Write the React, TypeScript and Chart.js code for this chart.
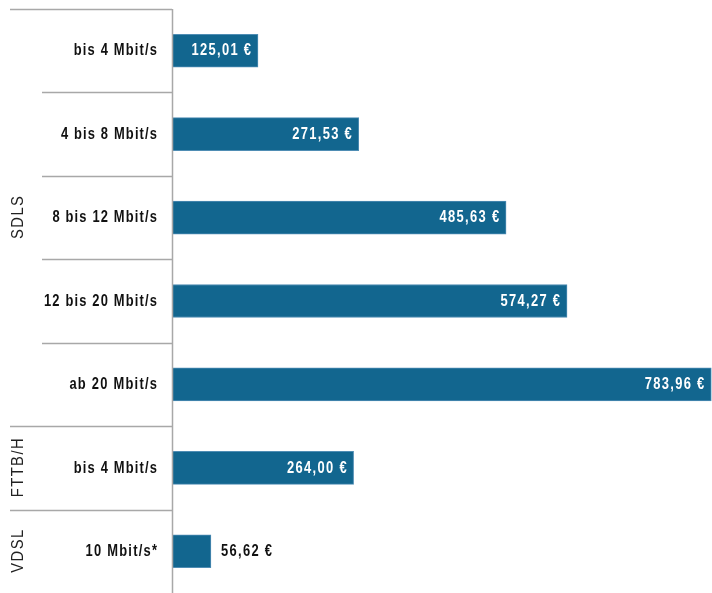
import React, { useEffect, useRef } from "react";
import { Chart, registerables } from "chart.js";

Chart.register(...registerables);

const groupNames = ["SDLS", "FTTB/H", "VDSL"];
const groupSizes = [5, 1, 1];
const categories = [
  "bis 4 Mbit/s",
  "4 bis 8 Mbit/s",
  "8 bis 12 Mbit/s",
  "12 bis 20 Mbit/s",
  "ab 20 Mbit/s",
  "bis 4 Mbit/s",
  "10 Mbit/s*",
];
const prices = [125.01, 271.53, 485.63, 574.27, 783.96, 264.0, 56.62];

const BAR_COLOR = "#12668f";
const LINE_COLOR = "#a8a8a8";
const SANS = '"Liberation Sans", Arial, sans-serif';

const fmt = (v: number) => v.toFixed(2).replace(".", ",") + " €";

// draws condensed glyphs, letter-spaced so the overall width is w0 * wf
function narrowText(ctx: any, text: string, x: number, y: number, align: "left" | "right", s = 0.76, wf = 0.9) {
  ctx.save();
  ctx.letterSpacing = "0px";
  ctx.textAlign = "left";
  const w0 = ctx.measureText(text).width;
  const ls = (w0 * (wf / s - 1)) / Math.max(1, text.length - 1);
  const total = w0 * wf;
  const left = align === "right" ? x - total : x;
  ctx.translate(left, y);
  ctx.scale(s, 1);
  ctx.letterSpacing = ls + "px";
  ctx.fillText(text, 0, 0);
  ctx.restore();
  return total;
}

const decorPlugin = {
  id: "decor",
  afterDraw(chart: any) {
    const { ctx, chartArea, scales } = chart;
    const y = scales.y;
    const left = chartArea.left;
    const step = y.getPixelForValue(1) - y.getPixelForValue(0);
    const edge = (i: number) => y.getPixelForValue(i) - step / 2;
    ctx.save();
    // separator lines
    ctx.strokeStyle = LINE_COLOR;
    ctx.lineWidth = 1.5;
    let start = 0;
    const groupStarts = new Set<number>();
    groupSizes.forEach((n) => {
      groupStarts.add(start);
      start += n;
    });
    for (let i = 0; i < categories.length; i++) {
      const yy = Math.round(edge(i)) + 0.5;
      const x0 = groupStarts.has(i) ? 10 : 42;
      ctx.beginPath();
      ctx.moveTo(x0, yy);
      ctx.lineTo(left, yy);
      ctx.stroke();
    }
    // axis line
    ctx.beginPath();
    ctx.moveTo(left + 0.5, edge(0));
    ctx.lineTo(left + 0.5, chart.height);
    ctx.stroke();

    // group labels
    ctx.fillStyle = "#222";
    ctx.font = `16px ${SANS}`;
    ctx.textBaseline = "middle";
    start = 0;
    groupSizes.forEach((n, gi) => {
      const top = edge(start);
      const bottom = edge(start + n);
      const cy = (top + bottom) / 2;
      ctx.save();
      ctx.translate(19, cy);
      ctx.rotate(-Math.PI / 2);
      ctx.scale(0.92, 1);
      ctx.letterSpacing = "0px";
      const name = groupNames[gi];
      const w0 = ctx.measureText(name).width;
      const ls = 1.6;
      const total = w0 + ls * (name.length - 1);
      ctx.letterSpacing = ls + "px";
      ctx.textAlign = "left";
      ctx.fillText(name, -total / 2, 0);
      ctx.restore();
      start += n;
    });
    ctx.letterSpacing = "0px";

    // category labels
    ctx.font = `bold 17px ${SANS}`;
    ctx.fillStyle = "#111";
    categories.forEach((c, i) => {
      narrowText(ctx, c, left - 15, y.getPixelForValue(i), "right");
    });

    // value labels
    const meta = chart.getDatasetMeta(0);
    meta.data.forEach((bar: any, i: number) => {
      const txt = fmt(prices[i]);
      const w = ctx.measureText(txt).width * 0.9;
      const barW = bar.x - bar.base;
      if (w + 14 < barW) {
        ctx.fillStyle = "#ffffff";
        narrowText(ctx, txt, bar.x - 7, bar.y, "right");
      } else {
        ctx.fillStyle = "#111";
        narrowText(ctx, txt, bar.x + 10, bar.y, "left");
      }
    });
    ctx.restore();
  },
};

export default function App() {
  const ref = useRef<HTMLCanvasElement>(null);
  useEffect(() => {
    if (!ref.current) return;
    const chart = new Chart(ref.current, {
      type: "bar",
      data: {
        labels: categories,
        datasets: [
          {
            data: prices,
            backgroundColor: BAR_COLOR,
            borderColor: "#4f8db4",
            borderWidth: 1,
            borderSkipped: false,
            barThickness: 33,
          },
        ],
      },
      options: {
        indexAxis: "y",
        animation: false,
        responsive: true,
        maintainAspectRatio: false,
        layout: { padding: { top: 9, bottom: 0, left: 0, right: 0 } },
        plugins: {
          legend: { display: false },
          tooltip: { enabled: false },
        },
        scales: {
          x: {
            display: false,
            min: 0,
            max: 785,
          },
          y: {
            grid: { display: false },
            border: { display: false },
            ticks: { display: false },
            afterFit: (s: any) => {
              s.width = 172;
            },
          },
        },
      },
      plugins: [decorPlugin],
    });
    return () => chart.destroy();
  }, []);
  return (
    <div style={{ position: "fixed", left: 0, top: 0, width: 712, height: 593, background: "#fff" }}>
      <canvas ref={ref} />
    </div>
  );
}
